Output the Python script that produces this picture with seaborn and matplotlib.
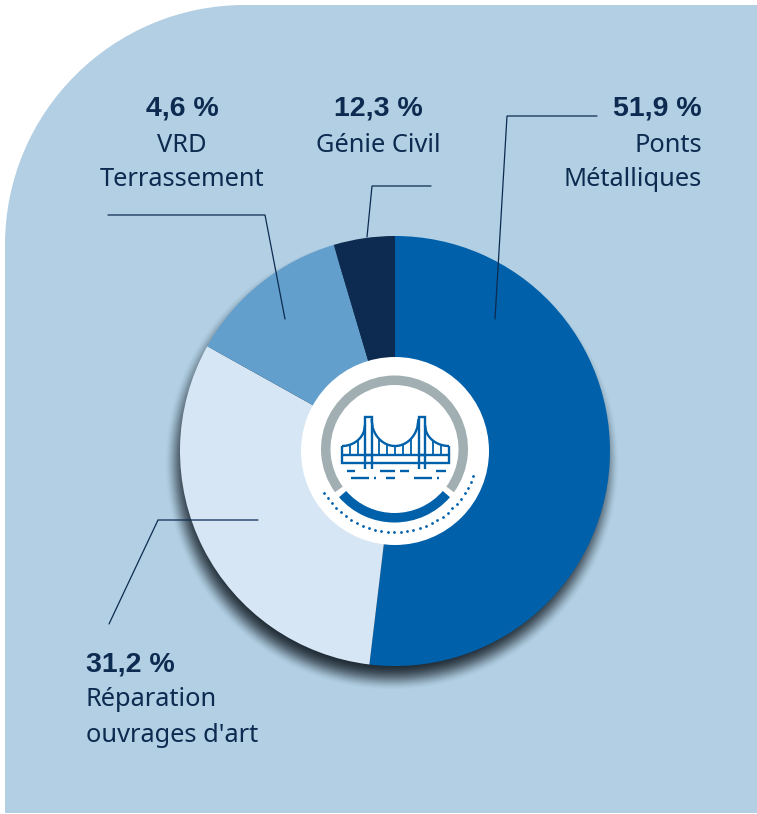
import numpy as np
import matplotlib
matplotlib.use("Agg")
import matplotlib.pyplot as plt
from matplotlib.patches import Circle, PathPatch, Wedge
from matplotlib.path import Path
import seaborn as sns

sns.set_theme(style="white")
plt.rcParams["font.family"] = ["Noto Sans", "DejaVu Sans"]

# clockwise from the top, as on the picture
values = [51.9, 31.2, 12.3, 4.6]
slice_colors = ["#0060AA", "#D7E6F5", "#639FCD", "#0D2B50"]

value_labels = ["51,9 %", "12,3 %", "4,6 %", "31,2 %"]
name_labels = ["Ponts\nMétalliques", "Génie Civil", "VRD\nTerrassement", "Réparation\nouvrages d'art"]

NAVY = "#0D2B50"
BLUE = "#0060AA"
PANEL = "#B3CFE4"
GREY = "#A1AFB2"
W, H = 757, 814
CX, CY, R = 395, 451, 215

fig = plt.figure(figsize=(W / 100, H / 100), dpi=100)
ax = fig.add_axes([0, 0, 1, 1])

# panel with the big rounded corner
k = 0.5523 * 240
panel = Path(
    [(5, 813), (5, 245), (5, 245 - k), (245 - k, 5), (245, 5), (757, 5), (757, 813), (5, 813)],
    [Path.MOVETO, Path.LINETO, Path.CURVE4, Path.CURVE4, Path.CURVE4, Path.LINETO, Path.LINETO, Path.CLOSEPOLY],
)
ax.add_patch(PathPatch(panel, fc=PANEL, ec="none"))

# soft shadow under the donut: outer layers weak, inner ones stronger
n_layers = 48
for i in range(n_layers):
    ax.add_patch(Circle((CX - 3, CY + 12), R + 12 - i * 0.5, fc="#18222B", ec="none",
                        alpha=0.004 + 0.085 * i / n_layers))

# y axis is inverted, so this runs clockwise from the top on screen
ax.pie(values, colors=slice_colors, startangle=-90, counterclock=True,
       radius=R, center=(CX, CY), wedgeprops={"linewidth": 0})
ax.add_patch(Circle((CX, CY), 94, fc="white", ec="none"))

# round badge in the middle
bx, by = 394.5, 449
ax.add_patch(Wedge((bx, by), 73.5, 144, 396, width=9.5, fc=GREY, ec="none"))
ax.add_patch(Wedge((bx, by), 73.5, 41, 139, width=9.5, fc=BLUE, ec="none"))
dots = np.radians(np.linspace(19, 148, 30))
ax.scatter(bx + 83 * np.cos(dots), by + 83 * np.sin(dots), s=4, color=BLUE, linewidths=0, zorder=3)

# bridge icon
def icon(xs, ys, lw=1.7):
    ax.plot(xs, ys, color=BLUE, lw=lw, solid_capstyle="butt", solid_joinstyle="miter", zorder=3)

def mid_cable(x):
    return 419 + 27 * np.sqrt(np.clip(1 - ((x - 395) / 23.5) ** 2, 0, 1))

def left_cable(x):
    return 425 + 21 * np.sqrt(np.clip(1 - ((x - 342) / 23) ** 2, 0, 1))

def right_cable(x):
    return 425 + 21 * np.sqrt(np.clip(1 - ((x - 449) / 24) ** 2, 0, 1))

icon([342, 449, 449, 342, 342], [455, 455, 462.5, 462.5, 455])
icon([342, 342], [446, 455])
icon([449, 449], [446, 455])
for tx in (365, 418.5):
    icon([tx, tx, tx + 6.5, tx + 6.5], [469, 417, 417, 469])
    icon([tx, tx + 6.5], [455, 455])
xs = np.linspace(371.5, 418.5, 40)
icon(xs, mid_cable(xs))
xs = np.linspace(342, 365, 25)
icon(xs, left_cable(xs))
xs = np.linspace(425, 449, 25)
icon(xs, right_cable(xs))
for hx in (350, 358):
    icon([hx, hx], [left_cable(hx), 455], lw=1.3)
for hx in (379, 387, 395, 403, 411):
    icon([hx, hx], [mid_cable(hx), 455], lw=1.3)
for hx in (433, 441):
    icon([hx, hx], [right_cable(hx), 455], lw=1.3)
for x0, x1 in [(347, 355), (380, 395), (400, 409), (436, 446)]:
    icon([x0, x1], [470.7, 470.7])
for x0, x1 in [(351, 369), (374, 376), (386, 395), (414, 432), (437, 439)]:
    icon([x0, x1], [478.3, 478.3])

# leader lines
leaders = [
    ([597, 507, 495], [116, 116, 319]),
    ([431, 372, 367], [186, 186, 237]),
    ([108, 265, 285], [215, 215, 319]),
    ([258, 158, 109], [520, 520, 624]),
]
for xs, ys in leaders:
    ax.plot(xs, ys, color=NAVY, lw=0.9, solid_joinstyle="miter", zorder=4)

# labels
spots = [(702, 109, "right"), (378, 109, "center"), (182, 109, "center"), (86, 664, "left")]
for (x, y, ha), val, name in zip(spots, value_labels, name_labels):
    ax.text(x, y, val, ha=ha, va="center", color=NAVY, fontsize=20.5, fontweight="bold",
            family=["Liberation Sans", "DejaVu Sans"])
    for j, line in enumerate(name.split("\n")):
        ax.text(x, y + 36 + 35 * j, line, ha=ha, va="center", color=NAVY, fontsize=18.3)

ax.set_xlim(0, W)
ax.set_ylim(H, 0)
ax.set_aspect("equal")
ax.axis("off")
fig.savefig("out.png", dpi=100, facecolor="white")
